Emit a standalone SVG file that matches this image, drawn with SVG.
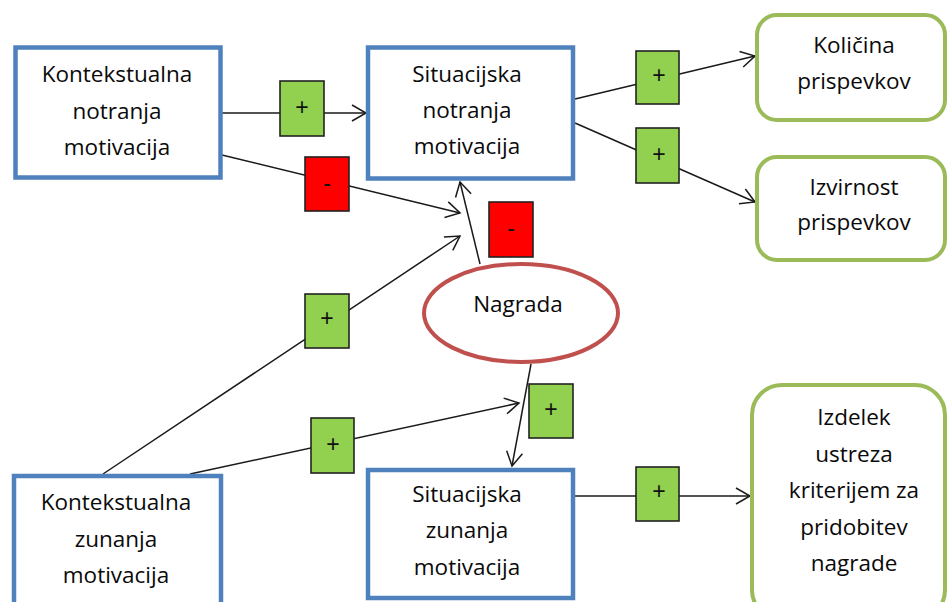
<svg xmlns="http://www.w3.org/2000/svg" width="950" height="602" viewBox="0 0 950 602">
<defs>
<marker id="arr" markerUnits="userSpaceOnUse" markerWidth="18" markerHeight="20" refX="15" refY="9" orient="auto" overflow="visible">
<path d="M1,1 L15,9 L1,17" fill="none" stroke="#1a1a1a" stroke-width="1.5"/>
</marker>
<style>
.bl{fill:#fff;stroke:#4F81BD;stroke-width:4.5}
.gr{fill:#fff;stroke:#9BBB59;stroke-width:4}
.el{fill:#fff;stroke:#C0504D;stroke-width:4}
.t{font-family:"Open Sans","Liberation Sans",sans-serif;font-size:22.5px;fill:#0a0a0a;text-anchor:middle}
.la{stroke:#1a1a1a;stroke-width:1.5;fill:none;marker-end:url(#arr)}
.pl{fill:#92D050;stroke:#222;stroke-width:1.6}
.mi{fill:#FF0000;stroke:#222;stroke-width:1.6}
.s{font-family:"Liberation Sans",sans-serif;font-size:23px;fill:#111;text-anchor:middle}
</style>
</defs>
<rect width="950" height="602" fill="#fff"/>
<g id="connectors">
<line class="la" x1="222" y1="113" x2="366" y2="113"/>
<line class="la" x1="222" y1="155" x2="460" y2="213"/>
<line class="la" x1="103" y1="474" x2="460" y2="236"/>
<line class="la" x1="480" y1="264" x2="460" y2="182"/>
<line class="la" x1="575" y1="99" x2="755" y2="56"/>
<line class="la" x1="575" y1="123" x2="755" y2="202"/>
<line class="la" x1="190" y1="474" x2="519" y2="403"/>
<line class="la" x1="531" y1="364" x2="512" y2="466"/>
<line class="la" x1="575" y1="496" x2="750" y2="496"/>
<g id="signs">
<rect class="pl" x="280" y="81" width="44" height="55"/><text class="s" x="302" y="115">+</text>
<rect class="mi" x="305" y="157" width="44" height="54"/><text class="s" x="327" y="191">-</text>
<rect class="mi" x="489" y="202" width="44" height="55"/><text class="s" x="511" y="236">-</text>
<rect class="pl" x="305" y="294" width="44" height="54"/><text class="s" x="327" y="326">+</text>
<rect class="pl" x="311" y="418" width="43" height="55"/><text class="s" x="333" y="452">+</text>
<rect class="pl" x="529" y="384" width="44" height="54"/><text class="s" x="551" y="417">+</text>
<rect class="pl" x="636" y="51" width="43" height="53"/><text class="s" x="659" y="83">+</text>
<rect class="pl" x="636" y="128" width="43" height="55"/><text class="s" x="659" y="162">+</text>
<rect class="pl" x="636" y="467" width="43" height="54"/><text class="s" x="659" y="499">+</text>
</g>
</g>
<g id="kontekstualna-notranja">
<rect class="bl" x="15.5" y="47.5" width="205" height="130"/>
<text class="t" x="117" y="82">Kontekstualna</text>
<text class="t" x="117" y="119">notranja</text>
<text class="t" x="117" y="155">motivacija</text>
</g>
<g id="situacijska-notranja">
<rect class="bl" x="368" y="47.5" width="205" height="131"/>
<text class="t" x="467" y="82">Situacijska</text>
<text class="t" x="467" y="118">notranja</text>
<text class="t" x="467" y="154">motivacija</text>
</g>
<g id="kolicina">
<rect class="gr" x="757" y="15" width="188" height="105" rx="20"/>
<text class="t" x="854" y="53">Količina</text>
<text class="t" x="854" y="89">prispevkov</text>
</g>
<g id="izvirnost">
<rect class="gr" x="757" y="157" width="188" height="103" rx="20"/>
<text class="t" x="854" y="195">Izvirnost</text>
<text class="t" x="854" y="230">prispevkov</text>
</g>
<g id="nagrada">
<ellipse class="el" cx="521" cy="313" rx="97" ry="49"/>
<text class="t" x="518" y="312">Nagrada</text>
</g>
<g id="kontekstualna-zunanja">
<rect class="bl" x="14" y="476" width="207" height="140"/>
<text class="t" x="116" y="510">Kontekstualna</text>
<text class="t" x="116" y="547">zunanja</text>
<text class="t" x="116" y="583">motivacija</text>
</g>
<g id="situacijska-zunanja">
<rect class="bl" x="368" y="470" width="205" height="128"/>
<text class="t" x="467" y="502">Situacijska</text>
<text class="t" x="467" y="538">zunanja</text>
<text class="t" x="467" y="575">motivacija</text>
</g>
<g id="izdelek">
<rect class="gr" x="752" y="385" width="193" height="235" rx="30"/>
<text class="t" x="854" y="425">Izdelek</text>
<text class="t" x="854" y="462">ustreza</text>
<text class="t" x="854" y="498">kriterijem za</text>
<text class="t" x="854" y="535">pridobitev</text>
<text class="t" x="854" y="571">nagrade</text>
</g>
</svg>
